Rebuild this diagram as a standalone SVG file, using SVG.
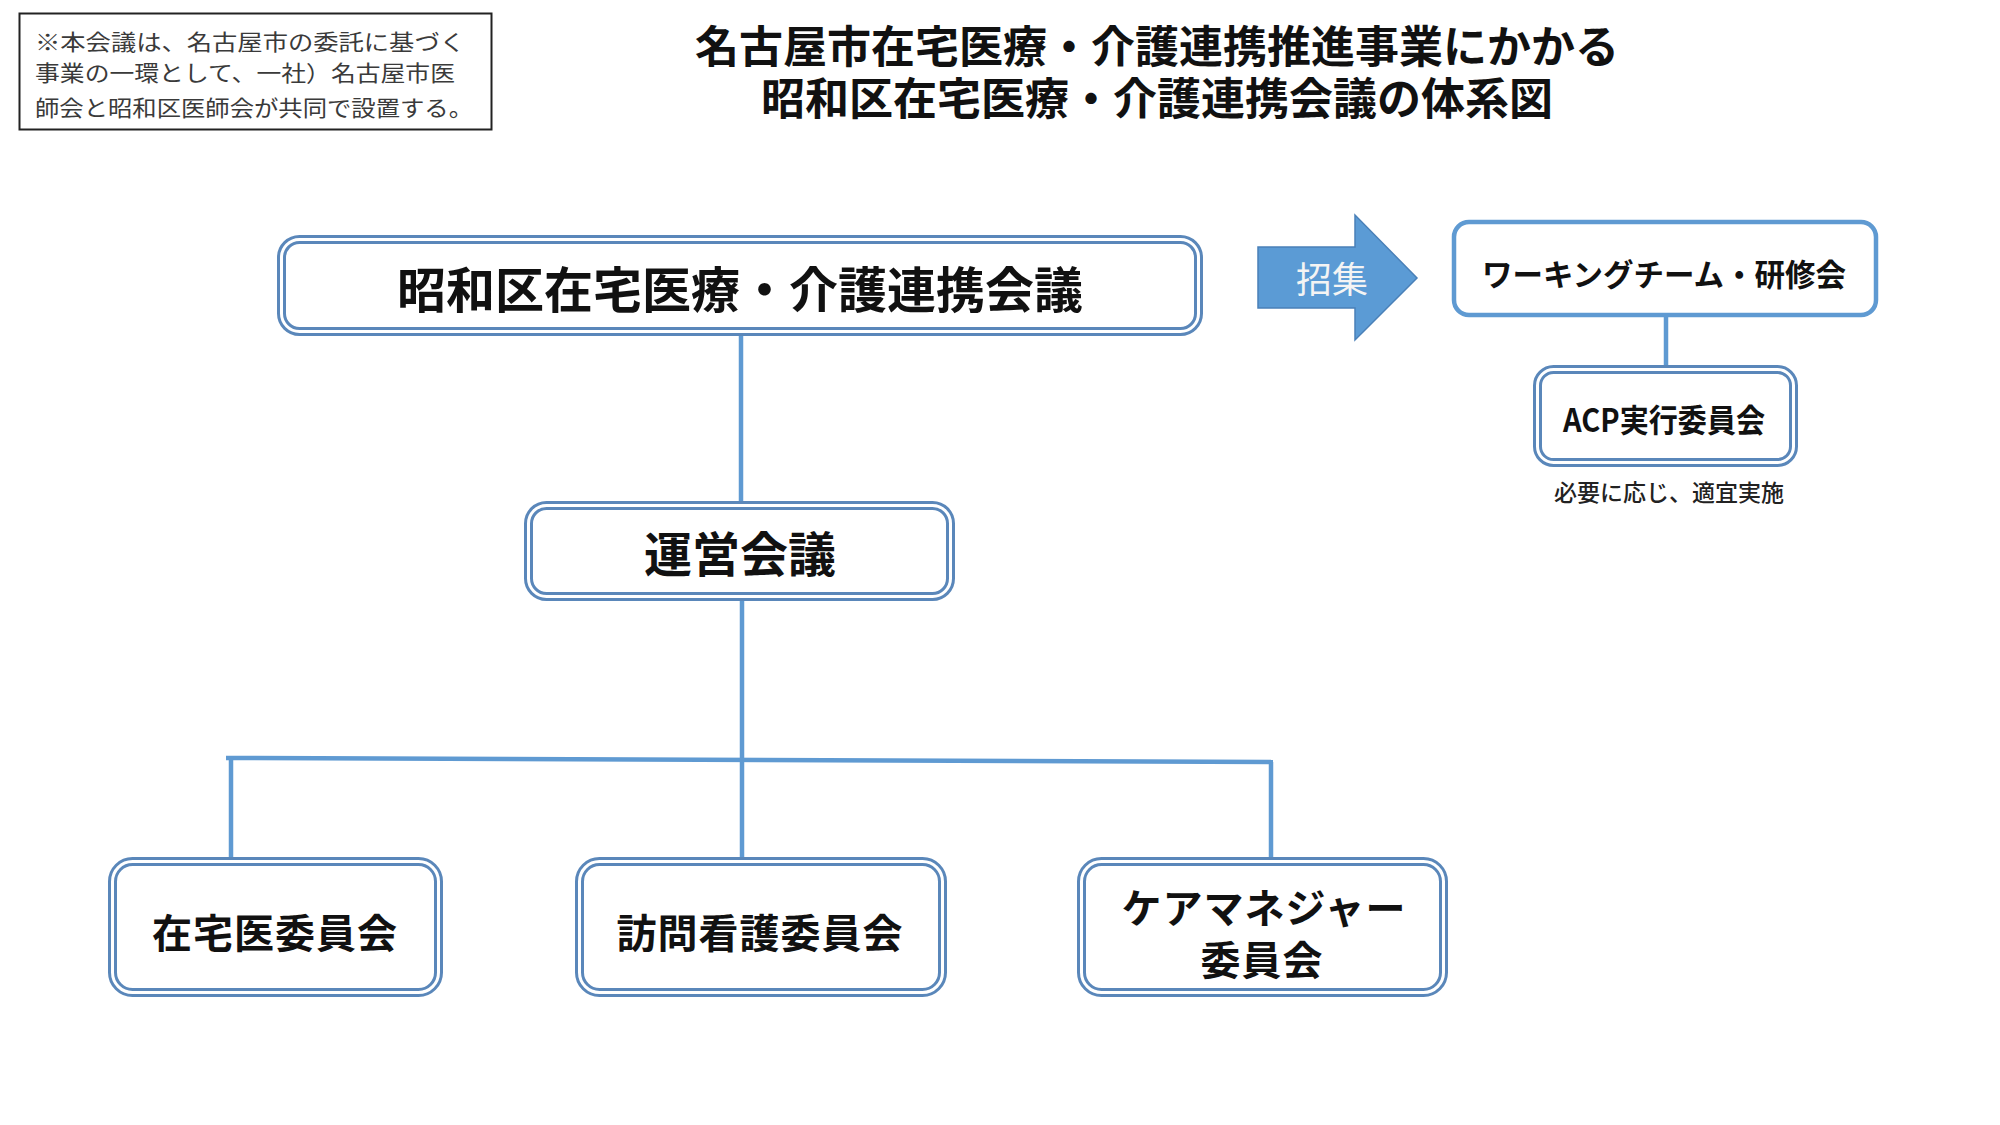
<svg xmlns="http://www.w3.org/2000/svg" width="2000" height="1125" viewBox="0 0 2000 1125">
<style>
.t{font-family:"Noto Sans CJK JP","Noto Sans",sans-serif;fill:#111;text-anchor:middle;font-weight:700}
.dbl{fill:none;stroke:#5A87BA;stroke-width:9}
.dblw{fill:none;stroke:#ffffff;stroke-width:3}
.ln{stroke:#5F9AD2;stroke-width:4.5;fill:none}
.note{font-family:"Noto Sans CJK JP",sans-serif;fill:#3a3a3a;font-size:22px;font-weight:400}
</style>
<rect width="2000" height="1125" fill="#ffffff"/>
<g id="note">
<rect x="19.5" y="13.5" width="472" height="116" fill="#fff" stroke="#222" stroke-width="2"/>
<text class="note" x="35" y="50" textLength="430" lengthAdjust="spacingAndGlyphs">※本会議は、名古屋市の委託に基づく</text>
<text class="note" x="35" y="81" textLength="420" lengthAdjust="spacingAndGlyphs">事業の一環として、一社）名古屋市医</text>
<text class="note" x="35" y="116" textLength="438" lengthAdjust="spacingAndGlyphs">師会と昭和区医師会が共同で設置する。</text>
</g>
<g id="title">
<text class="t" x="1157" y="63" font-size="44">名古屋市在宅医療・介護連携推進事業にかかる</text>
<text class="t" x="1157" y="115" font-size="44">昭和区在宅医療・介護連携会議の体系図</text>
</g>
<g id="connectors">
<line class="ln" x1="741" y1="335" x2="741" y2="501"/>
<line class="ln" x1="742" y1="601" x2="742" y2="858"/>
<line class="ln" x1="226" y1="758" x2="1273" y2="762"/>
<line class="ln" x1="231" y1="758" x2="231" y2="858"/>
<line class="ln" x1="1271" y1="762" x2="1271" y2="858"/>
<line class="ln" x1="1666" y1="317" x2="1666" y2="366"/>
</g>
<g id="main">
<rect class="dbl" x="281.5" y="239.5" width="917" height="92" rx="18"/>
<rect class="dblw" x="281.5" y="239.5" width="917" height="92" rx="18"/>
<text class="t" x="740" y="308" font-size="49">昭和区在宅医療・介護連携会議</text>
</g>
<g id="unei">
<rect class="dbl" x="528.5" y="505.5" width="422" height="91" rx="18"/>
<rect class="dblw" x="528.5" y="505.5" width="422" height="91" rx="18"/>
<text class="t" x="740" y="572" font-size="48">運営会議</text>
</g>
<g id="shoshu">
<polygon points="1258,247 1355,247 1355,215 1417,278 1355,340 1355,308 1258,308" fill="#5B9BD5" stroke="#4A80B8" stroke-width="1.5"/>
<text x="1332" y="293" font-size="36" text-anchor="middle" font-family="Noto Sans CJK JP,sans-serif" fill="#F4F4F4">招集</text>
</g>
<g id="working">
<rect x="1454" y="222" width="422" height="93" rx="15" fill="#fff" stroke="#5F9AD2" stroke-width="4.5"/>
<text class="t" x="1664" y="286" font-size="30.5">ワーキングチーム・研修会</text>
</g>
<g id="acp">
<rect class="dbl" x="1537.5" y="369.5" width="256" height="93" rx="16"/>
<rect class="dblw" x="1537.5" y="369.5" width="256" height="93" rx="16"/>
<text class="t" x="1664" y="432" font-size="32" textLength="202" lengthAdjust="spacingAndGlyphs">ACP実行委員会</text>
<text x="1669" y="501" font-size="23" text-anchor="middle" font-family="Noto Sans CJK JP,sans-serif" font-weight="500" fill="#222">必要に応じ、適宜実施</text>
</g>
<g id="zaitaku">
<rect class="dbl" x="112.5" y="861.5" width="326" height="131" rx="20"/>
<rect class="dblw" x="112.5" y="861.5" width="326" height="131" rx="20"/>
<text class="t" x="275" y="948" font-size="40" letter-spacing="1">在宅医委員会</text>
</g>
<g id="houmon">
<rect class="dbl" x="579.5" y="861.5" width="363" height="131" rx="20"/>
<rect class="dblw" x="579.5" y="861.5" width="363" height="131" rx="20"/>
<text class="t" x="760" y="948" font-size="40" letter-spacing="1">訪問看護委員会</text>
</g>
<g id="caremanager">
<rect class="dbl" x="1081.5" y="861.5" width="362" height="131" rx="20"/>
<rect class="dblw" x="1081.5" y="861.5" width="362" height="131" rx="20"/>
<text class="t" x="1264" y="923" font-size="40" letter-spacing="1">ケアマネジャー</text>
<text class="t" x="1262" y="975" font-size="40" letter-spacing="1">委員会</text>
</g>
</svg>
